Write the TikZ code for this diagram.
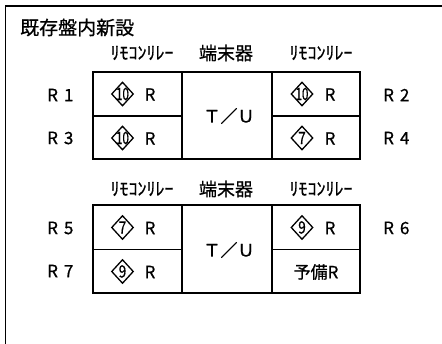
\documentclass[tikz,border=0pt]{standalone}
\usepackage{fontspec}
\setmainfont{Noto Sans CJK JP}[BoldFont={Noto Sans CJK JP},BoldFeatures={FakeBold=0.7}]
\usetikzlibrary{shapes.geometric}
\newcommand{\rlab}[1]{R\hspace{6pt}#1}
\begin{document}
\begin{tikzpicture}[x=1pt,y=-1pt,
  frame/.style={line width=1.4pt,black},
  tbl/.style={line width=1.3pt,black},
  txt/.style={inner sep=0pt,font=\fontsize{17}{17}\selectfont\bfseries},
  lab/.style={txt,anchor=west},
  hdr/.style={inner sep=0pt,font=\fontsize{18}{18}\selectfont\bfseries},
  num/.style={inner sep=0pt,font=\fontsize{17}{17}\selectfont\bfseries},
  dia/.style={diamond,draw,line width=1.3pt,inner sep=0pt,minimum width=22pt,minimum height=24pt}]
\useasboundingbox (0,0) rectangle (442,344);
\fill[white] (0,0) rectangle (442,344);
% frame
\draw[frame] (442,6) -- (5.5,6) -- (5.5,344);
\node[hdr,anchor=west,font=\fontsize{19}{19}\selectfont\bfseries] (title) at (20,27.5) {既存盤内新設};
% ---- table 1
\draw[tbl] (93,72) rectangle (360,159);
\draw[tbl] (182,72) -- (182,159);
\draw[tbl] (272,72) -- (272,159);
\draw[tbl] (93,116) -- (182,116);
\draw[tbl] (272,116) -- (360,116);
\node[hdr] (h1a) at (142,53) {ﾘﾓｺﾝﾘﾚｰ};
\node[hdr] (h1b) at (226,53) {端末器};
\node[hdr] (h1c) at (321,53) {ﾘﾓｺﾝﾘﾚｰ};
\node[txt] (tu1) at (229,116) {Ｔ／Ｕ};
\node[lab] (r1) at (47,95) {\rlab{1}};
\node[lab] (r3) at (47,138) {\rlab{3}};
\node[lab] (r2) at (383,95) {\rlab{2}};
\node[lab] (r4) at (383,138) {\rlab{4}};
\node[dia] (d1) at (122.5,94) {};
\node[num] (n1) at (d1.center) {\scalebox{0.68}[1]{10}};
\node[txt] (l1) at (150,94.5) {R};
\node[dia] (d3) at (122.5,138) {};
\node[num] (n3) at (d3.center) {\scalebox{0.68}[1]{10}};
\node[txt] (l3) at (150,138.5) {R};
\node[dia] (d2) at (302,94) {};
\node[num] (n2) at (d2.center) {\scalebox{0.68}[1]{10}};
\node[txt] (l2) at (330,94.5) {R};
\node[dia] (d4) at (302,138) {};
\node[num] (n4) at (d4.center) {\scalebox{0.8}[1]{7}};
\node[txt] (l4) at (330,138.5) {R};
% ---- table 2
\draw[tbl] (93,205) rectangle (360,293);
\draw[tbl] (182,205) -- (182,293);
\draw[tbl] (272,205) -- (272,293);
\draw[tbl] (93,249.5) -- (182,249.5);
\draw[tbl] (272,249.5) -- (360,249.5);
\node[hdr] (h2a) at (142,189) {ﾘﾓｺﾝﾘﾚｰ};
\node[hdr] (h2b) at (226,189) {端末器};
\node[hdr] (h2c) at (321,189) {ﾘﾓｺﾝﾘﾚｰ};
\node[txt] (tu2) at (229,250) {Ｔ／Ｕ};
\node[lab] (r5) at (47,228) {\rlab{5}};
\node[lab] (r7) at (47,271) {\rlab{7}};
\node[lab] (r6) at (383,228) {\rlab{6}};
\node[dia] (d5) at (122.5,227.5) {};
\node[num] (n5) at (d5.center) {\scalebox{0.8}[1]{7}};
\node[txt] (l5) at (150,228) {R};
\node[dia] (d7) at (122.5,271.5) {};
\node[num] (n7) at (d7.center) {\scalebox{0.8}[1]{9}};
\node[txt] (l7) at (150,272) {R};
\node[dia] (d6) at (302,227.5) {};
\node[num] (n6) at (d6.center) {\scalebox{0.8}[1]{9}};
\node[txt] (l6) at (330,228) {R};
\node[txt] (sp) at (316,272) {予備R};
\end{tikzpicture}
\end{document}
